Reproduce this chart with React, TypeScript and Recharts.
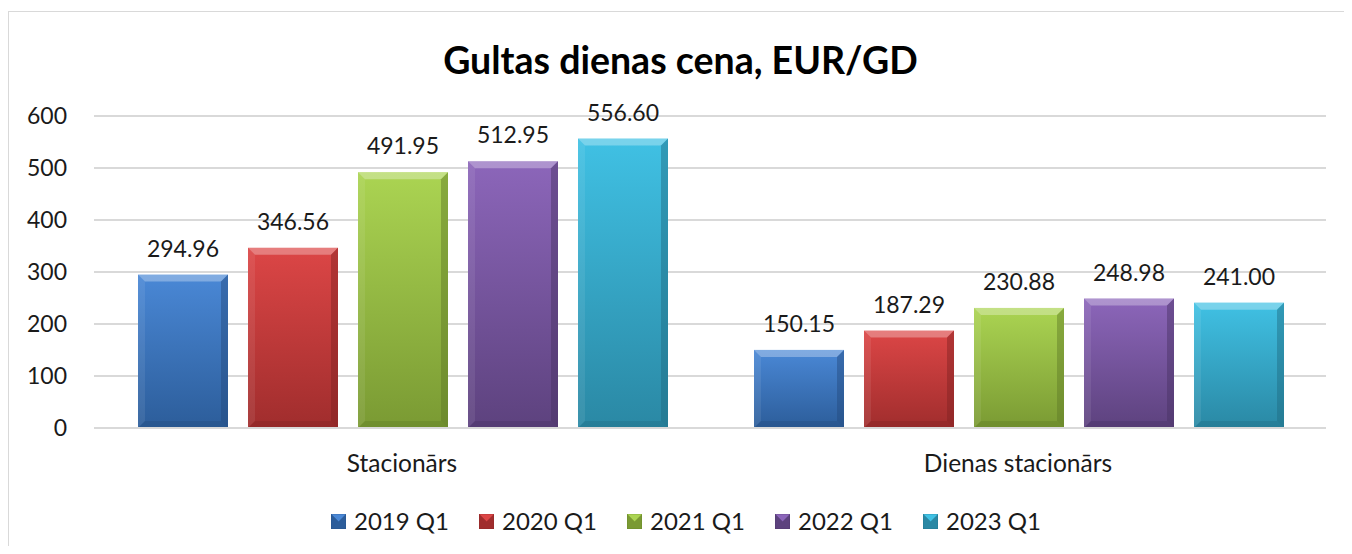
import React from 'react';
import { BarChart, Bar, XAxis, YAxis, CartesianGrid, Legend, LabelList } from 'recharts';

const categories = ['Stacionārs', 'Dienas stacionārs'];
const seriesNames = ['2019 Q1', '2020 Q1', '2021 Q1', '2022 Q1', '2023 Q1'];
const values2019 = [294.96, 150.15];
const values2020 = [346.56, 187.29];
const values2021 = [491.95, 230.88];
const values2022 = [512.95, 248.98];
const values2023 = [556.6, 241.0];
const yTicks = [0, 100, 200, 300, 400, 500, 600];

// top / bottom shades for each series
const palette = [
  { top: '#4a88d6', bottom: '#2c5d9a', edge: '#234a7c' },
  { top: '#dc4646', bottom: '#a02d2d', edge: '#7e2222' },
  { top: '#abd452', bottom: '#7a9a33', edge: '#5d7726' },
  { top: '#8c66ba', bottom: '#5d427e', edge: '#463162' },
  { top: '#40c1e4', bottom: '#2a88a4', edge: '#1f6a80' },
];

const allValues = [values2019, values2020, values2021, values2022, values2023];

const data = categories.map((name, i) => {
  const row: Record<string, string | number> = { name };
  seriesNames.forEach((s, j) => {
    row[s] = allValues[j][i];
  });
  return row;
});

const FONT = 'Lato, "Open Sans", sans-serif';

const BevelBar = (idx: number) => (props: any) => {
  const { x, y, width, height } = props;
  if (!width || !height) return null;
  const b = Math.min(7, height / 2);
  const c = palette[idx];
  return (
    <g>
      <rect x={x} y={y} width={width} height={height} fill={`url(#grad${idx})`} />
      <polygon points={`${x},${y} ${x + width},${y} ${x + width - b},${y + b} ${x + b},${y + b}`} fill="#ffffff" fillOpacity={0.3} />
      <polygon points={`${x},${y} ${x + b},${y + b} ${x + b},${y + height - b} ${x},${y + height}`} fill="#ffffff" fillOpacity={0.08} />
      <polygon points={`${x + width},${y} ${x + width},${y + height} ${x + width - b},${y + height - b} ${x + width - b},${y + b}`} fill={c.edge} fillOpacity={0.45} />
      <polygon points={`${x},${y + height} ${x + b},${y + height - b} ${x + width - b},${y + height - b} ${x + width},${y + height}`} fill={c.edge} fillOpacity={0.35} />
    </g>
  );
};

const LegendIcon = ({ idx }: { idx: number }) => {
  const c = palette[idx];
  return (
    <svg width={15} height={15} style={{ display: 'block' }}>
      <rect x={0} y={0} width={15} height={15} fill={c.bottom} />
      <polygon points="0,0 15,0 7.5,7.5" fill={c.top} />
      <polygon points="0,0 7.5,7.5 0,15" fill={c.bottom} fillOpacity={0.8} />
      <rect x={0} y={0} width={15} height={15} fill="none" stroke={c.edge} strokeOpacity={0.4} />
    </svg>
  );
};

const renderLegend = () => (
  <div style={{ display: 'flex', alignItems: 'center', height: 30, paddingLeft: 322, fontFamily: FONT, fontSize: 24, color: '#1a1a1a' }}>
    {seriesNames.map((s, i) => (
      <div key={s} style={{ display: 'flex', alignItems: 'center', width: 148 }}>
        <LegendIcon idx={i} />
        <span style={{ marginLeft: 8, lineHeight: '30px' }}>{s}</span>
      </div>
    ))}
  </div>
);

export default function App() {
  return (
    <div
      style={{
        marginTop: 3,
        width: 1343,
        height: 534,
        borderLeft: '1px solid #d9d9d9',
        borderTop: '1px solid #d9d9d9',
        position: 'relative',
        fontFamily: FONT,
        background: '#fff',
      }}
    >
      <div
        style={{
          position: 'absolute',
          top: 28,
          left: 0,
          width: 1343,
          textAlign: 'center',
          fontSize: 37.5,
          lineHeight: '40px',
          fontWeight: 700,
          color: '#000',
        }}
      >
        Gultas dienas cena, EUR/GD
      </div>
      <BarChart
        width={1343}
        height={534}
        data={data}
        margin={{ top: 104, right: 26, left: 0, bottom: 10 }}
        barCategoryGap={44}
        barGap={20}
      >
        <defs>
          {palette.map((c, i) => (
            <linearGradient key={i} id={`grad${i}`} x1="0" y1="0" x2="0" y2="1">
              <stop offset="0%" stopColor={c.top} />
              <stop offset="100%" stopColor={c.bottom} />
            </linearGradient>
          ))}
        </defs>
        <CartesianGrid vertical={false} stroke="#d9d9d9" strokeWidth={2} />
        <XAxis
          dataKey="name"
          height={78}
          tickLine={false}
          tickSize={0}
          tickMargin={27}
          axisLine={{ stroke: '#d9d9d9', strokeWidth: 2 }}
          tick={{ fontSize: 24.5, fill: '#1a1a1a', fontFamily: FONT }}
        />
        <YAxis
          width={85}
          domain={[0, 600]}
          ticks={yTicks}
          tickLine={false}
          tickSize={0}
          tickMargin={27}
          axisLine={false}
          tick={{ fontSize: 23, fill: '#1a1a1a', fontFamily: FONT }}
        />
        <Legend verticalAlign="bottom" content={renderLegend} />
        {seriesNames.map((s, i) => (
          <Bar key={s} dataKey={s} fill={palette[i].top} shape={BevelBar(i)} isAnimationActive={false}>
            <LabelList
              dataKey={s}
              position="top"
              offset={18}
              formatter={(v: any) => Number(v).toFixed(2)}
              style={{ fontSize: 23, fill: '#1a1a1a', fontFamily: FONT }}
            />
          </Bar>
        ))}
      </BarChart>
    </div>
  );
}
